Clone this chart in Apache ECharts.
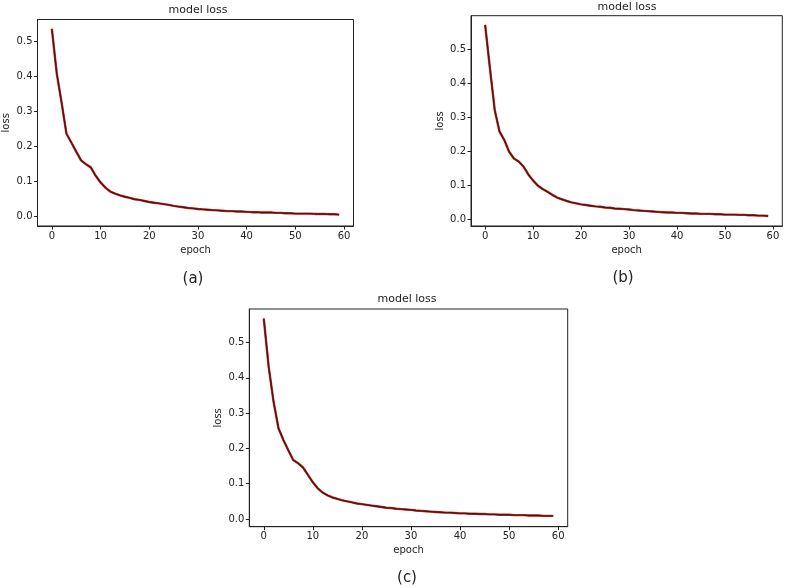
<!DOCTYPE html>
<html>
<head>
<meta charset="utf-8">
<script src="https://cdn.jsdelivr.net/npm/echarts@6/dist/echarts.min.js"></script>
<style>
  html, body { margin: 0; padding: 0; background: #fff; }
  #main { width: 789px; height: 588px; }
</style>
</head>
<body>
<div id="main"></div>
<script>
// epochs shared by the three runs
var epochs = [0,1,2,3,4,5,6,7,8,9,10,11,12,13,14,15,16,17,18,19,
              20,21,22,23,24,25,26,27,28,29,30,31,32,33,34,35,36,37,38,39,
              40,41,42,43,44,45,46,47,48,49,50,51,52,53,54,55,56,57,58,59];

// loss
var lossA = [0.537,0.410,0.326,0.237,0.212,0.186,0.161,0.150,0.141,0.117,
             0.098,0.083,0.072,0.066,0.061,0.057,0.054,0.050,0.048,0.045,
             0.042,0.040,0.038,0.036,0.034,0.031,0.029,0.027,0.025,0.024,
             0.022,0.021,0.020,0.019,0.018,0.017,0.016,0.016,0.015,0.015,
             0.014,0.013,0.013,0.012,0.012,0.012,0.011,0.011,0.010,0.010,
             0.009,0.009,0.009,0.009,0.008,0.008,0.008,0.007,0.007,0.006];
// panel (b)
var lossB = [0.571,0.443,0.320,0.257,0.232,0.198,0.178,0.169,0.154,0.131,
             0.113,0.098,0.088,0.080,0.071,0.063,0.058,0.053,0.049,0.046,
             0.043,0.041,0.039,0.037,0.036,0.034,0.033,0.031,0.030,0.029,
             0.028,0.026,0.025,0.024,0.023,0.022,0.021,0.020,0.019,0.019,
             0.018,0.018,0.017,0.016,0.016,0.015,0.015,0.015,0.014,0.014,
             0.013,0.013,0.013,0.012,0.012,0.011,0.011,0.010,0.010,0.009];
// panel (c)
var lossC = [0.568,0.431,0.332,0.257,0.224,0.195,0.167,0.158,0.146,0.125,
             0.104,0.087,0.075,0.067,0.061,0.057,0.053,0.050,0.047,0.044,
             0.042,0.040,0.038,0.036,0.034,0.032,0.031,0.029,0.028,0.027,
             0.026,0.024,0.023,0.022,0.021,0.020,0.019,0.018,0.018,0.017,
             0.016,0.016,0.015,0.015,0.014,0.014,0.013,0.013,0.012,0.012,
             0.012,0.011,0.011,0.011,0.010,0.010,0.010,0.009,0.009,0.009];

var xTicks = [0,10,20,30,40,50,60];
var yTicks = [0,0.1,0.2,0.3,0.4,0.5];
var panelTitle = 'model loss';
var xName = 'epoch';
var yName = 'loss';
var captions = ['(a)','(b)','(c)'];

var FONT = 'DejaVu Sans';
var myChart = echarts.init(document.getElementById('main'));

function pairs(ys){
    var out = [];
    for(var i=0;i<epochs.length;i++){
        out.push([epochs[i], ys[i]]);
    }
    return out;
}

function xAx(idx){
    return {
        type:'value', gridIndex: idx, min:-2.95, max:61.95,
        name: xName, nameLocation:'middle', nameGap:19,
        nameTextStyle:{fontFamily:FONT, fontSize:10, color:'#222'},
        axisLine:{show:true, onZero:false, lineStyle:{color:'#222', width:1}},
        axisTick:{show:true, length:3.5, customValues:xTicks, lineStyle:{color:'#222'}},
        axisLabel:{customValues:xTicks, fontFamily:FONT, fontSize:10, color:'#222', margin:5},
        splitLine:{show:false}
    };
}
function yAx(idx, mn, mx){
    return {
        type:'value', gridIndex: idx, min:mn, max:mx,
        name: yName, nameLocation:'middle', nameGap:26, nameRotate:90,
        nameTextStyle:{fontFamily:FONT, fontSize:10, color:'#222'},
        axisLine:{show:true, onZero:false, lineStyle:{color:'#222', width:1}},
        axisTick:{show:true, length:3.5, customValues:yTicks, lineStyle:{color:'#222'}},
        axisLabel:{customValues:yTicks, fontFamily:FONT, fontSize:10, color:'#222', margin:5,
            formatter:function(v){ return v.toFixed(1); }},
        splitLine:{show:false}
    };
}
function lines(idx, ys){
    var d = pairs(ys);
    return [
        {type:'line', xAxisIndex:idx, yAxisIndex:idx, data:d, symbol:'none',
         lineStyle:{color:'#e8291f', width:2.4}},
        {type:'line', xAxisIndex:idx, yAxisIndex:idx, data:d, symbol:'none',
         lineStyle:{color:'#3e1a1a', width:1.4}}
    ];
}
function label(txt, x, y, size){
    return {type:'text', x:x, y:y,
        style:{text:txt, fill:'#222', font: size + 'px "' + FONT + '"',
               textAlign:'center', textVerticalAlign:'middle'}};
}

var option = {
    animation:false,
    backgroundColor:'#fff',
    grid:[
        {left:37.5, top:19.5, width:316, height:206.5, show:true, borderColor:'#222', borderWidth:1},
        {left:471, top:15.7, width:311.3, height:210.3, show:true, borderColor:'#222', borderWidth:1},
        {left:249.3, top:309, width:318.4, height:217.7, show:true, borderColor:'#222', borderWidth:1}
    ],
    xAxis:[xAx(0), xAx(1), xAx(2)],
    yAxis:[yAx(0,-0.0265,0.5635), yAx(1,-0.0206,0.5980), yAx(2,-0.0218,0.5950)],
    series: lines(0,lossA).concat(lines(1,lossB)).concat(lines(2,lossC)),
    graphic:[
        label(panelTitle, 198, 10, 11),
        label(panelTitle, 627, 7, 11),
        label(panelTitle, 407, 299.5, 11),
        label(captions[0], 193, 279, 15),
        label(captions[1], 623, 278, 15),
        label(captions[2], 407, 578, 15)
    ]
};
myChart.setOption(option);
</script>
</body>
</html>
